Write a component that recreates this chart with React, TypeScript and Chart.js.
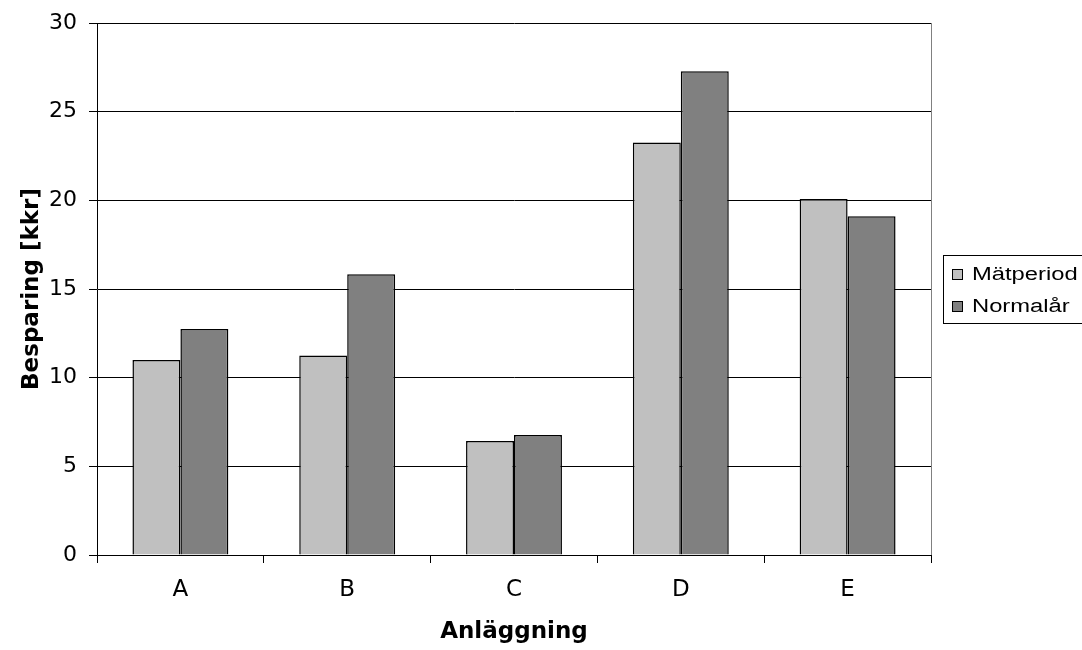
import { useEffect, useRef } from "react";
import { Chart, registerables } from "chart.js";

Chart.register(...registerables);

const categories = ["A", "B", "C", "D", "E"];
const seriesNames = ["Mätperiod", "Normalår"];
const matperiodValues = [11.0, 11.25, 6.43, 23.26, 20.07];
const normalarValues = [12.75, 15.83, 6.77, 27.28, 19.1];
const yTickValues = [0, 5, 10, 15, 20, 25, 30];
const xTitle = "Anläggning";
const yTitle = "Besparing [kkr]";

const REG = "DejaVu Sans";

const frameAndLegend = {
  id: "frameAndLegend",
  beforeDatasetsDraw(chart: any) {
    const { ctx, chartArea: ca } = chart;
    ctx.save();
    ctx.strokeStyle = "#808080";
    ctx.lineWidth = 1;
    ctx.beginPath();
    ctx.moveTo(Math.round(ca.right) + 0.5, ca.top);
    ctx.lineTo(Math.round(ca.right) + 0.5, ca.bottom);
    ctx.stroke();
    ctx.restore();
  },
  afterDraw(chart: any) {
    const { ctx, chartArea: ca } = chart;
    const cy = (ca.top + ca.bottom) / 2;
    const bx = Math.round(ca.right) + 12;
    const by = Math.round(cy - 34.5);
    ctx.save();
    ctx.strokeStyle = "#000";
    ctx.lineWidth = 1;
    ctx.strokeRect(bx + 0.5, by + 0.5, 200, 68);
    chart.data.datasets.forEach((ds: any, i: number) => {
      const rowY = Math.round(by + 18.5 + i * 32.2);
      ctx.fillStyle = ds.backgroundColor;
      ctx.fillRect(bx + 9, rowY - 5, 10, 10);
      ctx.strokeStyle = "#000";
      ctx.lineWidth = 1;
      ctx.strokeRect(bx + 9.5, rowY - 4.5, 10, 10);
      ctx.fillStyle = "#000";
      ctx.font = `18px "Liberation Sans"`;
      ctx.textBaseline = "middle";
      ctx.textAlign = "left";
      ctx.save();
      ctx.translate(bx + 29, rowY + 1);
      ctx.scale(1.32, 1);
      ctx.fillText(ds.label, 0, 0);
      ctx.restore();
    });
    ctx.restore();
  },
};

export default function App() {
  const canvasRef = useRef<HTMLCanvasElement | null>(null);

  useEffect(() => {
    if (!canvasRef.current) return;
    const chart = new Chart(canvasRef.current, {
      type: "bar",
      data: {
        labels: categories,
        datasets: [
          {
            label: seriesNames[0],
            data: matperiodValues,
            backgroundColor: "#C0C0C0",
            borderColor: "#000000",
            borderWidth: 1.5,
          },
          {
            label: seriesNames[1],
            data: normalarValues,
            backgroundColor: "#808080",
            borderColor: "#000000",
            borderWidth: 1.5,
          },
        ],
      },
      options: {
        responsive: false,
        animation: false,
        devicePixelRatio: 1,
        layout: { padding: { left: 0, top: 22, right: 151, bottom: 0 } },
        datasets: { bar: { categoryPercentage: 0.575, barPercentage: 1 } },
        plugins: {
          legend: { display: false },
          tooltip: { enabled: false },
          title: { display: false },
        },
        scales: {
          x: {
            grid: {
              display: true,
              offset: true,
              drawOnChartArea: false,
              drawTicks: true,
              tickLength: 8,
              color: "#000",
              lineWidth: 1,
            },
            border: { display: true, color: "#000", width: 1 },
            ticks: {
              color: "#000",
              font: { family: REG, size: 23 },
              padding: 13,
              maxRotation: 0,
            },
            title: {
              display: true,
              text: xTitle,
              color: "#000",
              font: { family: REG, size: 23, weight: "bold" },
              padding: { top: 0, bottom: 4 },
            },
            afterFit: (s: any) => {
              s.height = 95;
            },
          },
          y: {
            min: 0,
            max: 30,
            afterBuildTicks: (s: any) => {
              s.ticks = yTickValues.map((v) => ({ value: v }));
            },
            ticks: {
              color: "#000",
              font: { family: REG, size: 22, lineHeight: 1 },
              padding: 12,
            },
            grid: { color: "#000", lineWidth: 1, tickLength: 8 },
            border: { display: true, color: "#000", width: 1 },
            title: {
              display: true,
              text: yTitle,
              color: "#000",
              font: { family: REG, size: 23, weight: "bold" },
              padding: { top: 18, bottom: 0 },
            },
            afterFit: (s: any) => {
              s.width = 97;
            },
          },
        },
      },
      plugins: [frameAndLegend],
    });
    return () => chart.destroy();
  }, []);

  return (
    <div style={{ position: "fixed", left: 0, top: 0, width: 1082, height: 650, background: "#fff" }}>
      <canvas ref={canvasRef} width={1082} height={650} style={{ display: "block" }} />
    </div>
  );
}
